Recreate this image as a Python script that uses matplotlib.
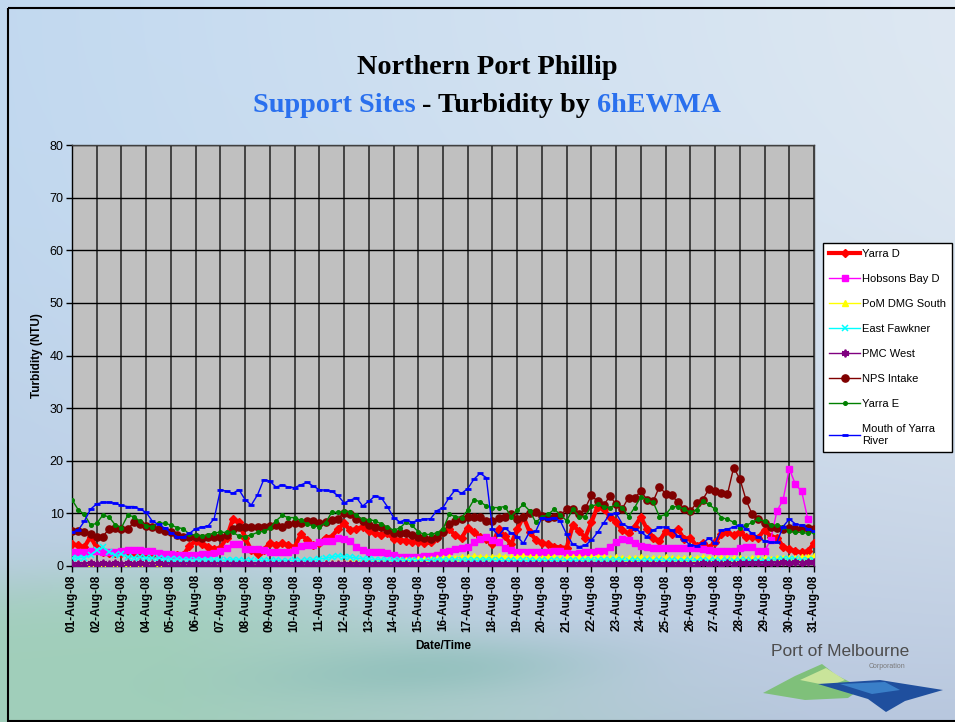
import numpy as np
import pandas as pd
import matplotlib
matplotlib.use('Agg')
import matplotlib.pyplot as plt
from matplotlib.patches import Polygon, Rectangle

# ---------------- data ----------------
times = pd.date_range('2008-08-01 00:00', periods=121, freq='6h')
day_ticks = pd.date_range('2008-08-01', '2008-08-31', freq='D')
tick_labels = [d.strftime('%d-Aug-08') for d in day_ticks]
y_ticks = [0, 10, 20, 30, 40, 50, 60, 70, 80]

yarra_d = [4.1, 3.9, 3.6, 5.6, 3.4, 2.6, 2.5, 2.4, 2.4, 2.3,
           2.3, 2.2, 2.2, 2.1, 2.1, 2.0, 2.0, 2.0, 2.1, 3.8,
           4.8, 4.2, 3.7, 3.2, 3.5, 5.3, 8.9, 8.3, 5.3, 3.0,
           2.2, 3.0, 4.4, 4.0, 4.3, 3.9, 3.6, 6.0, 5.0, 3.9,
           4.3, 5.4, 5.6, 7.0, 8.1, 6.8, 7.0, 7.5, 6.6, 6.2,
           5.9, 6.2, 5.2, 4.9, 4.8, 4.6, 4.6, 4.3, 4.5, 5.3,
           6.5, 7.0, 5.8, 5.3, 7.3, 6.4, 5.5, 5.1, 4.1, 7.0,
           5.7, 4.1, 7.0, 9.4, 6.5, 5.0, 4.4, 4.1, 3.7, 3.5,
           3.5, 7.8, 6.6, 5.4, 8.3, 11.3, 10.8, 9.4, 8.3, 6.8,
           6.2, 7.5, 9.3, 7.0, 5.4, 4.7, 6.6, 6.0, 7.0, 5.1,
           5.4, 3.8, 4.4, 3.5, 4.5, 6.0, 6.4, 5.8, 6.5, 5.5,
           5.6, 5.4, 6.9, 5.6, 5.4, 3.7, 3.2, 2.8, 2.6, 2.8,
           4.3]

hobsons_bay_d = [2.7, 2.6, 2.7, 2.8, 2.8, 2.7, 2.6, 2.6, 2.8, 3.0,
                 3.0, 3.0, 2.9, 2.8, 2.5, 2.3, 2.2, 2.1, 2.0, 2.0,
                 2.0, 2.2, 2.2, 2.4, 2.8, 3.5, 4.1, 4.1, 3.3, 3.2,
                 3.2, 3.0, 2.7, 2.6, 2.6, 2.6, 3.0, 3.8, 3.9, 4.0,
                 4.5, 4.7, 4.8, 5.4, 5.2, 4.7, 3.6, 3.0, 2.7, 2.6,
                 2.6, 2.4, 2.1, 1.8, 1.8, 1.8, 1.8, 1.9, 1.9, 2.0,
                 2.6, 2.8, 3.2, 3.5, 3.6, 4.5, 5.2, 5.6, 5.0, 4.5,
                 3.5, 3.0, 2.7, 2.6, 2.6, 2.6, 2.6, 2.7, 2.8, 2.8,
                 2.4, 2.3, 2.4, 2.6, 2.6, 2.8, 2.9, 3.7, 4.6, 5.1,
                 4.9, 4.4, 3.8, 3.7, 3.5, 3.5, 3.5, 3.5, 3.5, 3.5,
                 3.5, 3.4, 3.2, 3.0, 2.8, 2.8, 2.8, 2.8, 3.4, 3.7,
                 3.7, 2.9, 2.8, 5.0, 10.4, 12.6, 18.5, 15.5, 14.2, 8.9,
                 np.nan]

pom_dmg_south = [0.3, 0.4, 0.3, 0.5, 0.4, 0.3, 0.4, 0.3, 0.4, 0.5,
                 0.4, 0.3, 0.3, 0.4, 0.3, 0.3, 0.2, 0.3, 0.3, 0.2,
                 0.3, 0.3, 0.4, 0.3, 0.3, 0.4, 0.3, 0.3, 0.4, 0.3,
                 0.3, 0.3, 0.4, 0.3, 0.3, 0.4, 0.3, 0.4, 0.4, 0.3,
                 0.4, 0.5, 0.5, 0.6, 0.6, 0.7, 0.7, 0.8, 0.8, 0.9,
                 0.9, 1.0, 1.0, 1.1, 1.2, 1.2, 1.3, 1.4, 1.4, 1.5,
                 1.6, 1.7, 1.6, 1.8, 1.7, 1.9, 1.8, 1.7, 1.8, 1.9,
                 1.8, 1.7, 1.8, 1.9, 1.8, 1.7, 1.6, 1.8, 1.7, 1.6,
                 1.7, 1.8, 1.7, 1.6, 1.7, 1.8, 1.7, 1.6, 1.7, 1.6,
                 1.5, 1.6, 1.7, 1.6, 1.5, 1.6, 1.7, 1.6, 1.5, 1.6,
                 1.5, 1.6, 1.7, 1.6, 1.5, 1.6, 1.5, 1.6, 1.5, 1.4,
                 1.5, 1.6, 1.5, 1.4, 1.5, 1.6, 1.5, 1.6, 1.7, 1.8,
                 1.9]

east_fawkner = [1.5, 1.6, 1.6, 2.0, 3.0, 3.6, 2.7, 2.0, 2.2, 1.8,
                1.6, 1.7, 1.6, 1.5, 1.5, 1.4, 1.3, 1.3, 1.2, 1.2,
                1.1, 1.2, 1.1, 1.2, 1.1, 1.1, 1.2, 1.1, 1.0, 1.1,
                1.0, 1.1, 1.0, 1.1, 1.0, 1.0, 1.1, 1.0, 1.1, 1.2,
                1.3, 1.5, 1.7, 1.9, 1.8, 1.7, 1.5, 1.4, 1.3, 1.2,
                1.2, 1.1, 1.1, 1.1, 1.0, 1.1, 1.0, 1.0, 1.1, 1.1,
                1.2, 1.1, 1.2, 1.1, 1.2, 1.1, 1.1, 1.2, 1.1, 1.1,
                1.0, 1.1, 1.0, 1.1, 1.1, 1.0, 1.1, 1.0, 1.1, 1.1,
                1.0, 1.1, 1.0, 1.1, 1.2, 1.1, 1.2, 1.1, 1.2, 1.1,
                1.0, 1.1, 1.0, 1.1, 1.0, 1.1, 1.0, 1.1, 1.0, 1.0,
                1.1, 1.0, 1.1, 1.0, 1.1, 1.0, 1.1, 1.0, 1.1, 1.1,
                1.0, 1.1, 1.0, 1.1, 1.2, 1.3, 1.4, 1.3, 1.2, 1.1,
                1.2]

pmc_west = [0.4, 0.3, 0.4, 0.5, 0.4, 0.5, 0.4, 0.5, 0.4, 0.5,
            0.4, 0.5, 0.4, 0.4, 0.5, 0.4, 0.4, 0.3, 0.4, 0.4,
            0.3, 0.4, 0.3, 0.4, 0.4, 0.3, 0.4, 0.3, 0.4, 0.3,
            0.4, 0.3, 0.4, 0.3, 0.4, 0.3, 0.4, 0.3, 0.4, 0.3,
            0.4, 0.3, 0.4, 0.3, 0.4, 0.3, 0.4, 0.3, 0.3, 0.4,
            0.3, 0.3, 0.4, 0.3, 0.3, 0.4, 0.3, 0.3, 0.4, 0.3,
            0.3, 0.4, 0.3, 0.3, 0.4, 0.3, 0.3, 0.4, 0.3, 0.3,
            0.4, 0.3, 0.3, 0.4, 0.3, 0.3, 0.4, 0.3, 0.3, 0.4,
            0.3, 0.3, 0.4, 0.3, 0.4, 0.3, 0.4, 0.3, 0.4, 0.3,
            0.4, 0.3, 0.4, 0.3, 0.4, 0.3, 0.4, 0.3, 0.4, 0.3,
            0.4, 0.4, 0.5, 0.4, 0.5, 0.4, 0.5, 0.4, 0.5, 0.5,
            0.6, 0.5, 0.6, 0.5, 0.6, 0.7, 0.6, 0.7, 0.6, 0.7,
            0.7]

nps_intake = [6.6, 6.6, 6.5, 6.0, 5.6, 5.6, 7.1, 7.3, 7.1, 7.0,
              8.3, 8.0, 7.6, 7.4, 7.0, 6.7, 6.4, 5.9, 5.5, 5.5,
              5.6, 5.4, 5.5, 5.6, 5.6, 5.9, 7.0, 7.4, 7.5, 7.4,
              7.4, 7.5, 7.6, 7.7, 7.5, 7.9, 8.1, 8.1, 8.6, 8.5,
              8.2, 8.4, 8.7, 9.0, 10.1, 9.8, 9.0, 8.6, 7.7, 7.5,
              7.4, 6.8, 6.3, 6.2, 6.2, 5.8, 5.5, 5.3, 5.1, 5.5,
              6.5, 8.0, 8.6, 8.9, 9.3, 9.4, 9.3, 8.5, 8.5, 9.1,
              9.4, 9.8, 9.0, 9.3, 10.0, 10.2, 9.5, 9.2, 9.4, 9.7,
              10.8, 10.9, 9.8, 11.0, 13.4, 12.3, 11.6, 13.3, 11.7, 10.9,
              13.0, 13.0, 14.2, 12.6, 12.3, 15.1, 13.7, 13.4, 12.1, 10.9,
              10.4, 12.0, 12.6, 14.6, 14.2, 13.9, 13.6, 18.7, 16.6, 12.6,
              9.8, 8.9, 8.1, 7.5, 7.3, 7.0, 7.2, 7.0, 7.2, 7.2,
              7.0]

yarra_e = [12.6, 10.7, 9.8, 7.8, 8.1, 9.7, 9.3, 7.8, 7.3, 9.6,
           9.4, 8.5, 7.6, 7.5, 8.2, 8.1, 7.8, 7.3, 7.1, 6.0,
           5.9, 5.7, 5.9, 6.3, 6.4, 6.4, 6.4, 5.7, 5.6, 5.9,
           6.4, 6.6, 7.2, 8.6, 9.6, 9.2, 9.2, 8.7, 8.0, 7.6,
           7.5, 8.2, 10.2, 10.2, 10.4, 10.3, 9.6, 8.9, 8.8, 8.6,
           8.0, 7.4, 6.8, 7.2, 8.3, 7.7, 6.5, 6.0, 6.0, 6.3,
           7.0, 9.8, 9.4, 9.2, 10.6, 12.6, 12.2, 11.4, 11.1, 11.1,
           11.3, 9.4, 10.6, 11.7, 10.5, 8.3, 9.3, 9.8, 10.8, 9.7,
           8.6, 10.8, 9.4, 9.4, 11.4, 11.7, 11.3, 11.1, 11.7, 11.1,
           9.4, 11.1, 13.2, 12.6, 12.1, 9.4, 9.8, 11.2, 11.3, 10.8,
           10.2, 10.7, 12.3, 11.7, 10.8, 9.2, 8.9, 8.3, 7.3, 7.7,
           8.3, 8.9, 8.5, 7.7, 7.7, 7.5, 6.6, 6.4, 6.4, 6.2,
           6.4]

mouth_of_yarra = [6.4, 6.8, 8.5, 10.8, 11.8, 12.1, 12.1, 11.9, 11.5, 11.3,
                  11.3, 10.8, 10.2, 8.5, 7.9, 7.2, 6.3, 5.6, 5.5, 6.2,
                  7.1, 7.4, 7.6, 9.0, 14.5, 14.2, 13.8, 14.5, 12.6, 11.6,
                  13.5, 16.4, 16.1, 15.0, 15.4, 15.0, 14.9, 15.4, 15.9, 15.2,
                  14.5, 14.4, 14.2, 13.4, 12.0, 12.5, 13.0, 11.4, 12.3, 13.3,
                  13.0, 11.3, 9.2, 8.4, 8.8, 8.3, 8.7, 8.9, 9.0, 10.5,
                  11.1, 13.0, 14.5, 13.8, 14.7, 16.5, 17.6, 16.8, 7.0, 5.8,
                  7.2, 6.3, 5.6, 4.3, 6.5, 6.6, 9.2, 9.0, 9.2, 8.5,
                  6.0, 4.1, 3.7, 3.9, 4.9, 6.4, 8.2, 9.9, 10.0, 8.0,
                  7.4, 7.1, 6.4, 5.6, 6.8, 7.4, 7.4, 6.8, 5.7, 4.9,
                  4.0, 3.8, 4.3, 5.3, 4.3, 6.8, 7.0, 7.4, 7.8, 7.1,
                  6.2, 5.5, 4.7, 4.5, 4.5, 7.5, 8.9, 8.0, 7.7, 7.1,
                  6.6]

series_names = ['Yarra D', 'Hobsons Bay D', 'PoM DMG South', 'East Fawkner',
                'PMC West', 'NPS Intake', 'Yarra E', 'Mouth of Yarra\nRiver']
series_values = [yarra_d, hobsons_bay_d, pom_dmg_south, east_fawkner,
                 pmc_west, nps_intake, yarra_e, mouth_of_yarra]
for s in series_values:
    assert len(s) == len(times), len(s)

# ---------------- styles ----------------
styles = [
    dict(color='#ff0000', lw=3.0, marker='D', ms=4.0, mec='#ff0000', mfc='#ff0000'),
    dict(color='#ff00ff', lw=1.0, marker='s', ms=4.8, mec='#ff00ff', mfc='#ff00ff'),
    dict(color='#ffff00', lw=1.0, marker='^', ms=5.0, mec='#ffff00', mfc='#ffff00'),
    dict(color='#00ffff', lw=1.0, marker='x', ms=4.0, mew=1.1, mec='#00ffff'),
    dict(color='#800080', lw=1.0, marker=(6, 2, 0), ms=5.5, mew=1.3, mec='#800080'),
    dict(color='#800000', lw=1.0, marker='o', ms=5.2, mec='#800000', mfc='#800000'),
    dict(color='#008000', lw=1.0, marker='o', ms=2.6, mec='#008000', mfc='#008000'),
    dict(color='#0000ff', lw=1.0, marker='_', ms=4.5, mew=2, mec='#0000ff'),
]

W, H = 955, 722
fig = plt.figure(figsize=(W / 100, H / 100), dpi=100)

# ---------------- background ----------------
yy, xx = np.mgrid[0:H, 0:W].astype(float)
u = (xx / W)[..., None]
v = (yy / H)[..., None]
c_left = np.array([0.76, 0.85, 0.94])
c_right = np.array([0.87, 0.91, 0.95])
img = c_left * (1 - u) + c_right * u
c_bottom = np.array([0.72, 0.78, 0.87])
img = img * (1 - v ** 2) + c_bottom * v ** 2
wave = 585 + 0.10 * xx - 25 * np.sin(xx / 140.0)
m = 1 / (1 + np.exp(-(yy - wave) / 18.0))
m = m * np.clip(1.25 - xx / 650.0, 0, 1)
green = np.array([0.63, 0.81, 0.73])
img = img * (1 - m[..., None]) + green * m[..., None]
band = np.exp(-((yy - (690 - 0.05 * xx)) / 28.0) ** 2) * np.exp(-((xx - 430) / 170.0) ** 2)
teal = np.array([0.50, 0.72, 0.70])
img = img * (1 - 0.5 * band[..., None]) + teal * 0.5 * band[..., None]
img = np.clip(img, 0, 1)

bg = fig.add_axes([0, 0, 1, 1], zorder=-10)
bg.imshow(img, extent=[0, W, H, 0], aspect='auto', interpolation='bilinear')
bg.set_xlim(0, W)
bg.set_ylim(H, 0)
bg.axis('off')
bg.add_patch(Rectangle((7.5, 7.5), W, H - 8.5, fill=False, ec='black', lw=1.5))

# logo
bg.add_patch(Polygon([(763, 693), (795, 676), (822, 664), (836, 675), (862, 688),
                      (848, 698), (805, 700)], closed=True, fc='#7fc07a', ec='none'))
bg.add_patch(Polygon([(800, 680), (826, 668), (845, 680), (830, 686)], closed=True,
                     fc='#c9e49a', ec='none'))
bg.add_patch(Polygon([(818, 684), (880, 680), (943, 690), (905, 701), (886, 712),
                      (868, 699)], closed=True, fc='#1f4f9e', ec='none'))
bg.add_patch(Polygon([(840, 684), (885, 682), (900, 690), (872, 694)], closed=True,
                     fc='#3a7fc8', ec='none'))
bg.text(840, 652, 'Port of Melbourne', ha='center', va='center', fontsize=12.5,
        color='#4d4d4d', family='Liberation Sans')
bg.text(887, 667, 'Corporation', ha='center', va='center', fontsize=5,
        color='#7a7a7a', family='Liberation Sans')

# ---------------- main axes ----------------
x0, x1, y0, y1 = 72, 814, 145, 566
ax = fig.add_axes([x0 / W, 1 - y1 / H, (x1 - x0) / W, (y1 - y0) / H])
ax.set_facecolor('#c0c0c0')

handles = []
for k, (name, vals, st) in enumerate(zip(series_names, series_values, styles)):
    ln, = ax.plot(times, vals, label=name, zorder=3 + k, **st)
    handles.append(ln)

ax.set_xlim(day_ticks[0], day_ticks[-1])
ax.set_ylim(0, 80)
ax.set_yticks(y_ticks)
ax.set_xticks(day_ticks)
ax.set_xticklabels(tick_labels, rotation=90, fontsize=8.5, fontweight='bold',
                   family='Liberation Sans')
for lab in ax.get_yticklabels():
    lab.set_family('Liberation Sans')
    lab.set_fontsize(9)
ax.tick_params(axis='both', direction='out', length=4, width=1, color='black', pad=2)
ax.xaxis.grid(True, color='#383838', lw=1.3, zorder=1)
ax.yaxis.grid(True, color='black', lw=1.0, zorder=1)
ax.set_axisbelow(True)
for sp in ax.spines.values():
    sp.set_color('#404040')
    sp.set_linewidth(1)
ax.spines['left'].set_color('black')
ax.spines['bottom'].set_color('black')

ax.set_ylabel('Turbidity (NTU)', fontsize=8.5, fontweight='bold', family='Liberation Sans',
              labelpad=5)
fig.text(443 / W, 1 - 646 / H, 'Date/Time', ha='center', va='center', fontsize=8.5,
         fontweight='bold', family='Liberation Sans')

leg = fig.legend(handles=handles, loc='upper left', bbox_to_anchor=(823 / W, 1 - 243 / H),
                 bbox_transform=fig.transFigure, frameon=True, fancybox=False,
                 edgecolor='black', facecolor='white', framealpha=1,
                 prop={'family': 'Liberation Sans', 'size': 8}, handlelength=2.8,
                 handletextpad=0.15, labelspacing=1.35, borderpad=0.55, numpoints=1,
                 borderaxespad=0)
leg.get_frame().set_linewidth(1)

# ---------------- titles ----------------
tfont = dict(family='Liberation Serif', fontweight='bold', fontsize=20.3)
blue = '#2a70ee'
fig.text(487 / W, 1 - 67 / H, 'Northern Port Phillip', ha='center', va='center',
         color='black', **tfont)

renderer = fig.canvas.get_renderer()
def width_px(s):
    t = fig.text(0, 0, s, **tfont)
    w = t.get_window_extent(renderer).width
    t.remove()
    return w

full = 'Support Sites - Turbidity by 6hEWMA'
wf = width_px(full)
w1 = width_px('Support Sites')
w3 = width_px('6hEWMA')
left = 487 - wf / 2
right = 487 + wf / 2
yt = 1 - 105 / H
fig.text(left / W, yt, 'Support Sites', ha='left', va='center', color=blue, **tfont)
fig.text(right / W, yt, '6hEWMA', ha='right', va='center', color=blue, **tfont)
mid = (left + w1 + right - w3) / 2
fig.text(mid / W, yt, '- Turbidity by', ha='center', va='center', color='black', **tfont)

fig.savefig('out.png', dpi=100)
